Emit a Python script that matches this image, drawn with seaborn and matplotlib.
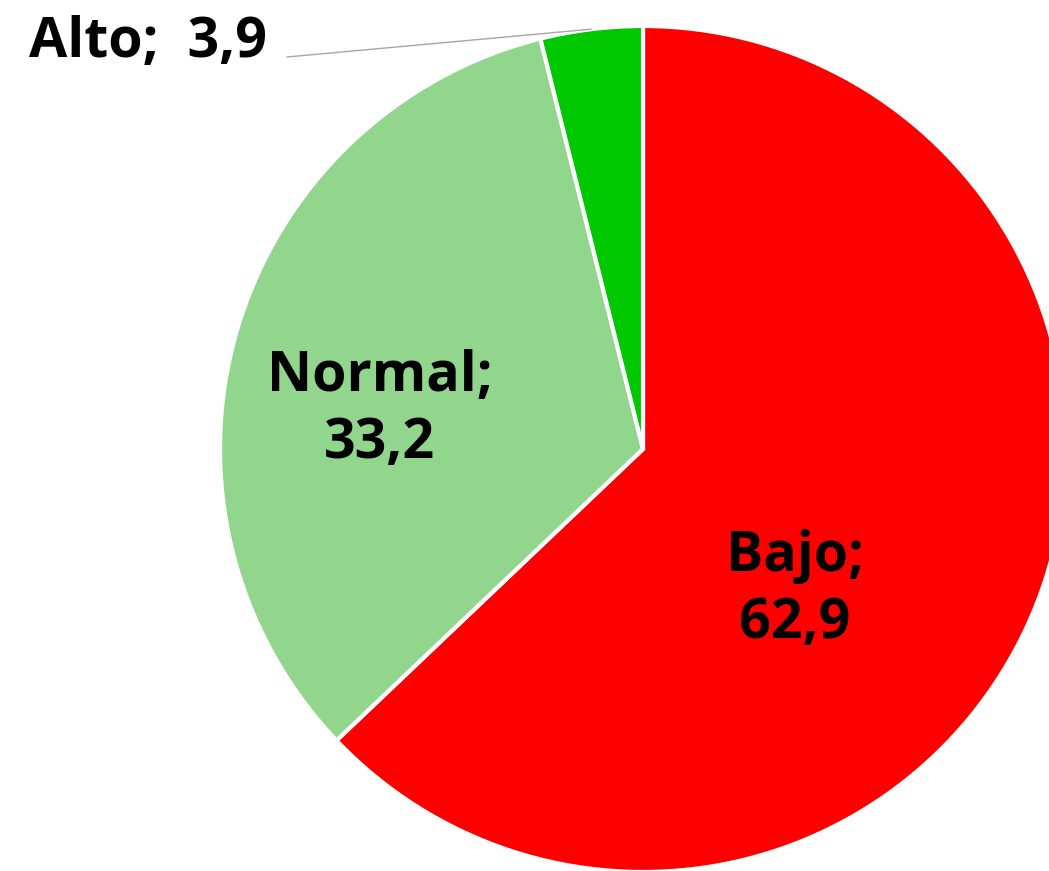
import matplotlib
matplotlib.use("Agg")
import matplotlib.pyplot as plt
import seaborn as sns
import numpy as np

categories = ["Bajo", "Normal", "Alto"]
values = [62.9, 33.2, 3.9]
value_labels = ["62,9", "33,2", "3,9"]
colors = ["#FF0000", "#92D68E", "#00C800"]

sns.set_theme(style="white")
plt.rcParams['font.family'] = ['Open Sans', 'DejaVu Sans']

W, H = 1049, 871
fig = plt.figure(figsize=(W / 100, H / 100), dpi=100)
ax = fig.add_axes([0, 0, 1, 1])
ax.set_axis_off()

cx, cy, r = 643, 449, 423

wedges, _ = ax.pie(values, colors=colors, startangle=90, counterclock=False,
                   radius=1.0, center=(0, 0), frame=False,
                   wedgeprops=dict(edgecolor='white', linewidth=3))
ax.set_xlim(-cx / r, (W - cx) / r)
ax.set_ylim(-(H - cy) / r, cy / r)
ax.set_aspect('equal')

fs = 40
ax.text(0.359, -0.333, f"{categories[0]};\n{value_labels[0]}", ha='center', va='center',
        fontsize=fs, fontweight='bold', color='black', linespacing=1.3)
ax.text(-0.622, 0.092, f"{categories[1]};\n{value_labels[1]}", ha='center', va='center',
        fontsize=fs, fontweight='bold', color='black', linespacing=1.3)
ax.text(-1.17, 0.96, f"{categories[2]};  {value_labels[2]}", ha='center', va='center',
        fontsize=fs, fontweight='bold', color='black')

ang = np.deg2rad(90 + values[2] / 100 * 360 / 2)
ax.plot([(287 - cx) / r, np.cos(ang)], [(cy - 57) / r, np.sin(ang)],
        color='#A6A6A6', linewidth=1)

fig.savefig("out.png", dpi=100)
